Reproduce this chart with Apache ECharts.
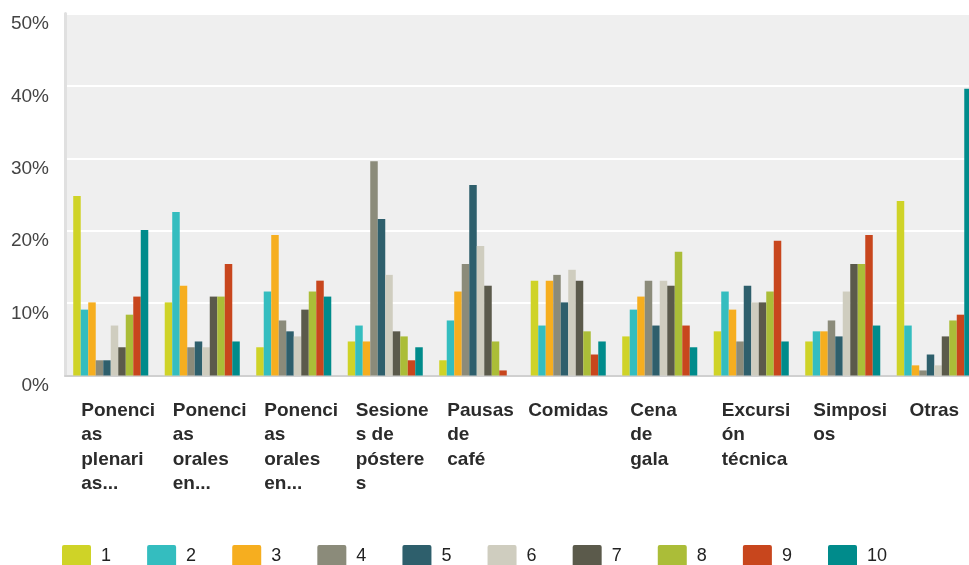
<!DOCTYPE html>
<html>
<head>
<meta charset="utf-8">
<script src="https://cdn.jsdelivr.net/npm/echarts@6/dist/echarts.min.js"></script>
<style>
html,body{margin:0;padding:0;background:#fff;}
#c{width:969px;height:565px;}
</style>
</head>
<body>
<div id="c"></div>
<script>
var categories = [
  "Ponenci\nas\nplenari\nas...",
  "Ponenci\nas\norales\nen...",
  "Ponenci\nas\norales\nen...",
  "Sesione\ns de\npóstere\ns",
  "Pausas\nde\ncafé",
  "Comidas",
  "Cena\nde\ngala",
  "Excursi\nón\ntécnica",
  "Simposi\nos",
  "Otras"
];
var seriesNames = ["1","2","3","4","5","6","7","8","9","10"];
var s1  = [24.8, 10.1,  3.9,  4.7,  2.1, 13.1,  5.4,  6.1,  4.7, 24.1];
var s2  = [ 9.1, 22.6, 11.6,  6.9,  7.6,  6.9,  9.1, 11.6,  6.1,  6.9];
var s3  = [10.1, 12.4, 19.4,  4.7, 11.6, 13.1, 10.9,  9.1,  6.1,  1.4];
var s4  = [ 2.1,  3.9,  7.6, 29.6, 15.4, 13.9, 13.1,  4.7,  7.6,  0.7];
var s5  = [ 2.1,  4.7,  6.1, 21.6, 26.3, 10.1,  6.9, 12.4,  5.4,  2.9];
var s6  = [ 6.9,  3.9,  5.4, 13.9, 17.9, 14.6, 13.1, 10.1, 11.6,  1.4];
var s7  = [ 3.9, 10.9,  9.1,  6.1, 12.4, 13.1, 12.4, 10.1, 15.4,  5.4];
var s8  = [ 8.4, 10.9, 11.6,  5.4,  4.7,  6.1, 17.1, 11.6, 15.4,  7.6];
var s9  = [10.9, 15.4, 13.1,  2.1,  0.7,  2.9,  6.9, 18.6, 19.4,  8.4];
var s10 = [20.1,  4.7, 10.9,  3.9,  0.0,  4.7,  3.9,  4.7,  6.9, 39.6];
var yTicks = [0, 10, 20, 30, 40, 50];

var allValues = [s1,s2,s3,s4,s5,s6,s7,s8,s9,s10];
var colors = ['#cfd327','#34bdbf','#f6ae1f','#8b8b7a','#2e5f6c','#cfcdbf','#5b5a4b','#abbd38','#c8461d','#008b8b'];
var FONT = '"Liberation Sans", Arial, sans-serif';

var chart = echarts.init(document.getElementById('c'), null, {renderer:'canvas'});
var series = seriesNames.map(function(n, i){
  return {
    name: n, type: 'bar', data: allValues[i],
    barGap: '0%', barCategoryGap: '18%',
    itemStyle: {color: colors[i]},
    emphasis: {disabled: true},
    animation: false
  };
});

chart.setOption({
  animation: false,
  color: colors,
  textStyle: {fontFamily: FONT},
  grid: {
    left: 65, top: 13.5, width: 915, height: 362,
    show: true, backgroundColor: '#efefef', borderWidth: 0,
    containLabel: false, outerBoundsMode: 'none'
  },
  legend: {
    data: seriesNames,
    left: 62, top: 545, padding: 0,
    itemWidth: 29, itemHeight: 22, itemGap: 36.1,
    icon: 'path://M2,0 H27 Q29,0 29,2 V20 Q29,22 27,22 H2 Q0,22 0,20 V2 Q0,0 2,0 Z',
    textStyle: {fontSize: 18, color: '#222', fontFamily: FONT, padding: [0,0,0,5]},
    selectedMode: false
  },
  xAxis: {
    type: 'category',
    data: categories,
    axisLine: {show: true, lineStyle: {color: '#d0d0d0', width: 2}},
    axisTick: {show: false},
    splitLine: {show: false},
    axisLabel: {
      interval: 0,
      margin: 23,
      hideOverlap: false,
      formatter: function(v){
        return v.indexOf('\n') >= 0 ? '{a|' + v + '}' : '{b|' + v + '}';
      },
      rich: {
        a: {width: 59, align: 'left', fontSize: 19, fontWeight: 'bold', color: '#2b2b2b', lineHeight: 24.5, fontFamily: FONT},
        b: {fontSize: 19, fontWeight: 'bold', color: '#2b2b2b', lineHeight: 24.5, fontFamily: FONT}
      }
    }
  },
  yAxis: {
    type: 'value',
    min: yTicks[0], max: yTicks[yTicks.length-1], interval: 10,
    axisLine: {show: true, lineStyle: {color: '#e0e0e0', width: 3}},
    axisTick: {show: false},
    splitLine: {show: true, lineStyle: {color: '#ffffff', width: 2}},
    axisLabel: {
      formatter: '{value}%',
      fontSize: 19, color: '#444', margin: 16,
      verticalAlign: 'top', lineHeight: 21,
      fontFamily: FONT
    }
  },
  series: series
});
</script>
</body>
</html>
